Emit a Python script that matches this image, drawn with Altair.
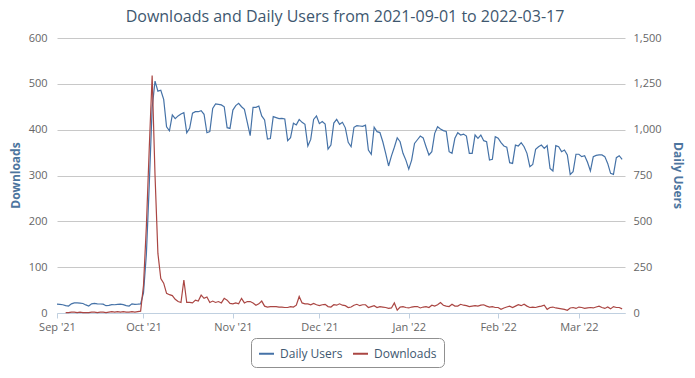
import altair as alt
import pandas as pd

title_text = "Downloads and Daily Users from 2021-09-01 to 2022-03-17"
series_names = ["Daily Users", "Downloads"]
series_colors = ["#4572A7", "#AA4643"]

# Daily users, 2021-09-01 .. 2022-03-16 (one value per day)
users_sep = [48, 47, 45, 40, 38, 50, 55, 55, 54, 52, 44, 38, 50, 52, 50, 49, 48, 40, 42, 46,
             45, 47, 48, 46, 40, 38, 50, 47, 48, 50]
users_oct = [110, 320, 700, 1120, 1265, 1210, 1215, 1165, 1016, 994, 1080, 1060, 1075, 1085, 1093,
             983, 1007, 1090, 1098, 1098, 1104, 1084, 983, 989, 1116, 1140, 1138, 1135, 1125, 1011, 1007]
users_nov = [1107, 1131, 1144, 1125, 1111, 1040, 967, 1122, 1122, 1129, 1075, 1053, 949, 952, 1071,
             1066, 1060, 1062, 1058, 940, 956, 1035, 1026, 1056, 1040, 1029, 911, 947, 1056, 1075]
users_dec = [1033, 1044, 1031, 894, 916, 1036, 1056, 1029, 1040, 1010, 931, 907, 1013, 1022, 1020,
             1018, 1025, 889, 866, 1013, 989, 984, 934, 871, 802, 857, 904, 956, 934, 871, 834]
users_jan = [785, 834, 925, 945, 965, 955, 907, 862, 880, 980, 1016, 1004, 995, 990, 880, 871, 953,
             983, 971, 976, 965, 871, 871, 971, 953, 971, 940, 934, 834, 838, 962]
users_feb = [953, 929, 911, 905, 820, 816, 916, 911, 929, 907, 871, 798, 810, 893, 907, 916, 898,
             913, 789, 775, 913, 907, 880, 889, 862, 756, 771, 866]
users_mar = [866, 853, 858, 822, 775, 853, 860, 862, 862, 853, 816, 762, 756, 847, 858, 838]

# Daily downloads (first three days have no value)
dl_sep = [None, None, None, 1, 1, 2, 2, 1, 2, 1, 1, 1, 2, 2, 1, 2, 2, 1, 2, 3, 2, 3, 2, 3, 2, 2,
          3, 2, 3, 4]
dl_oct = [60, 190, 360, 518, 300, 130, 75, 65, 43, 40, 38, 30, 25, 23, 72, 23, 23, 22, 28, 26,
          39, 32, 35, 23, 26, 23, 25, 22, 32, 28, 21]
dl_nov = [20, 22, 20, 32, 22, 25, 25, 22, 17, 20, 26, 15, 13, 14, 14, 14, 13, 13, 12, 12,
          14, 13, 17, 36, 22, 20, 20, 18, 21, 18]
dl_dec = [16, 18, 19, 14, 13, 18, 17, 20, 17, 16, 12, 13, 17, 19, 16, 18, 18, 12, 14, 16,
          12, 14, 13, 12, 10, 11, 22, 6, 13, 14, 12]
dl_jan = [11, 13, 14, 14, 11, 13, 14, 12, 17, 15, 18, 23, 17, 15, 14, 19, 15, 15, 19, 17,
          16, 14, 15, 16, 15, 17, 18, 15, 13, 14, 12]
dl_feb = [12, 8, 11, 13, 15, 12, 15, 18, 16, 19, 15, 12, 13, 12, 14, 15, 17, 8, 12, 13,
          11, 10, 9, 8, 6, 11, 12, 10]
dl_mar = [13, 12, 10, 11, 12, 11, 13, 15, 12, 10, 13, 9, 14, 12, 12, 9]

users = users_sep + users_oct + users_nov + users_dec + users_jan + users_feb + users_mar
downloads = dl_sep + dl_oct + dl_nov + dl_dec + dl_jan + dl_feb + dl_mar
dates = pd.date_range("2021-09-01", periods=len(users), freq="D")

df = pd.DataFrame({"date": dates, "users": users, "downloads": downloads})
title_df = pd.DataFrame({"title": [title_text]})

month_ticks = [alt.DateTime(year=2021, month=9, date=1), alt.DateTime(year=2021, month=10, date=1),
               alt.DateTime(year=2021, month=11, date=1), alt.DateTime(year=2021, month=12, date=1),
               alt.DateTime(year=2022, month=1, date=1), alt.DateTime(year=2022, month=2, date=1),
               alt.DateTime(year=2022, month=3, date=1)]
x_domain = [alt.DateTime(year=2021, month=9, date=1), alt.DateTime(year=2022, month=3, date=17)]

FONT = "Open Sans"

x_enc = alt.X("date:T", title=None,
              scale=alt.Scale(domain=x_domain),
              axis=alt.Axis(values=month_ticks, format="%b '%y", grid=False,
                            domainColor="#C0D0E0", tickColor="#C0D0E0", tickSize=5,
                            labelColor="#666666", labelFontSize=11, labelPadding=3,
                            labelFont=FONT, labelFlush=False, labelOverlap=False))

color_enc = alt.Color("series:N",
                      scale=alt.Scale(domain=series_names, range=series_colors),
                      legend=alt.Legend(title=None, orient="none", legendX=194, legendY=300,
                                        direction="horizontal", symbolType="stroke",
                                        symbolSize=225, symbolStrokeWidth=2,
                                        labelFontSize=12, labelFont=FONT, labelColor="#3E576F",
                                        columnPadding=6, labelOffset=5, padding=7,
                                        strokeColor="#909090", cornerRadius=5, fillColor="white"))

users_layer = alt.Chart(df).transform_calculate(series="'Daily Users'").mark_line(
    strokeWidth=1.2).encode(
    x=x_enc,
    y=alt.Y("users:Q", title="Daily Users",
            scale=alt.Scale(domain=[0, 1500], nice=False),
            axis=alt.Axis(orient="right", values=[0, 250, 500, 750, 1000, 1250, 1500],
                          format=",d", grid=False, domain=False, ticks=False,
                          labelColor="#666666", labelFontSize=11, labelPadding=8, labelFont=FONT,
                          titleColor="#4d759e", titleFontSize=12, titleFontWeight="bold",
                          titleFont=FONT, titleX=52, titleY=137, titleBaseline="middle",
                          titleAngle=90)),
    color=color_enc,
)

dl_layer = alt.Chart(df).transform_filter("isValid(datum.downloads)").transform_calculate(
    series="'Downloads'").mark_line(strokeWidth=1.2).encode(
    x=x_enc,
    y=alt.Y("downloads:Q", title="Downloads",
            scale=alt.Scale(domain=[0, 600], nice=False),
            axis=alt.Axis(orient="left", values=[0, 100, 200, 300, 400, 500, 600],
                          grid=True, gridColor="#C8C8C8", gridWidth=1,
                          domain=False, ticks=False,
                          labelColor="#666666", labelFontSize=11, labelPadding=10, labelFont=FONT,
                          titleColor="#4d759e", titleFontSize=12, titleFontWeight="bold",
                          titleFont=FONT, titleX=-42, titleY=137, titleBaseline="middle",
                          titleAngle=270)),
    color=color_enc,
)

title_layer = alt.Chart(title_df).mark_text(
    font=FONT, fontSize=16, color="#3E576F", align="center", baseline="alphabetic"
).encode(text="title:N", x=alt.value(288), y=alt.value(-16))

chart = alt.layer(users_layer, dl_layer, title_layer).resolve_scale(y="independent").properties(
    width=568, height=275,
    autosize=alt.AutoSizeParams(type="none"),
    padding={"left": 49, "top": 30, "right": 62, "bottom": 57},
    background="white",
).configure_view(stroke=None)

chart.save("out.html", embed_options={"renderer": "svg", "actions": False})
